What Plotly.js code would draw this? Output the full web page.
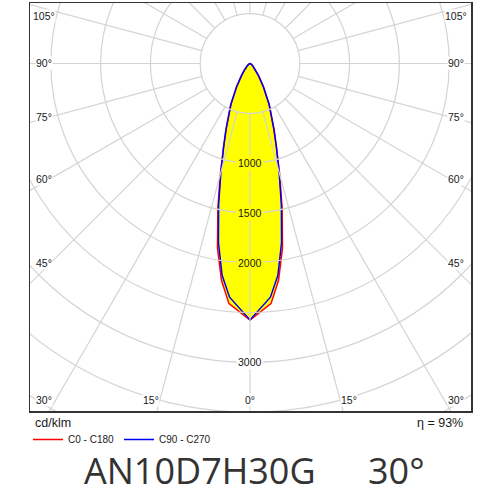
<!DOCTYPE html>
<html>
<head>
<meta charset="utf-8">
<script src="https://cdn.plot.ly/plotly-3.0.1.min.js"></script>
<style>
  html, body { margin: 0; padding: 0; background: #fff; }
  #chart { width: 500px; height: 500px; }
</style>
</head>
<body>
<div id="chart"></div>
<script>
// Photometric data (cd/klm)
const gamma  = [0, 5, 7.5, 10, 12.5, 15, 17.5, 20, 25, 30, 35, 40, 45, 50, 60, 70, 80, 90];
const cdC0   = [2575, 2420, 2195, 1880, 1490, 1150, 880, 695, 450, 262, 145, 88, 54, 34, 14, 5, 2, 0];
const cdC180 = [2575, 2420, 2195, 1880, 1490, 1150, 880, 695, 450, 262, 145, 88, 54, 34, 14, 5, 2, 0];
const cdC90  = [2575, 2355, 2145, 1825, 1455, 1130, 885, 708, 460, 272, 152, 93, 57, 36, 15, 5, 2, 0];
const cdC270 = [2575, 2355, 2145, 1825, 1455, 1130, 885, 708, 460, 272, 152, 93, 57, 36, 15, 5, 2, 0];

const ringValues = [500, 1000, 1500, 2000, 2500, 3000, 3500, 4000];
const ringLabels = [1000, 1500, 2000, 3000];
const sideLabels = ['105°', '90°', '75°', '60°', '45°', '30°'];
const bottomLabels = ['15°', '0°', '15°'];
const seriesNames = ['C0 - C180', 'C90 - C270'];
const unitText = 'cd/klm';
const effText = 'η = 93%';
const productName = 'AN10D7H30G';
const beamText = '30°';

// page geometry (px)
const W = 500, H = 500;
const M = { l: 30, r: 29, t: 3, b: 89 };
const cx = 250, cy = 63.5, k = 0.0996; // centre and px per cd/klm
const plotW = W - M.l - M.r, plotH = H - M.t - M.b;
const px = x => (x - M.l) / plotW;
const py = y => (H - M.b - y) / plotH;

// turn one C-plane pair into x/y through the axes
function planeXY(right, left) {
    const xs = [], ys = [];
    for (let i = gamma.length - 1; i >= 0; i--) {
        const a = gamma[i] * Math.PI / 180;
        xs.push(-left[i] * Math.sin(a));
        ys.push(-left[i] * Math.cos(a));
    }
    for (let i = 1; i < gamma.length; i++) {
        const a = gamma[i] * Math.PI / 180;
        xs.push(right[i] * Math.sin(a));
        ys.push(-right[i] * Math.cos(a));
    }
    return { x: xs, y: ys };
}

const red = planeXY(cdC0, cdC180);
const blue = planeXY(cdC90, cdC270);

const traces = [
    {
        x: red.x, y: red.y, type: 'scatter', mode: 'lines',
        fill: 'toself', fillcolor: '#ffff00',
        line: { width: 0 }, showlegend: false, hoverinfo: 'skip'
    },
    {
        x: red.x, y: red.y, type: 'scatter', mode: 'lines', name: seriesNames[0],
        line: { color: '#ff0000', width: 1.5 }
    },
    {
        x: blue.x, y: blue.y, type: 'scatter', mode: 'lines', name: seriesNames[1],
        line: { color: '#0000ff', width: 1.5 }
    }
];

// polar grid: rings and 15° spokes from the 500 ring outward
const gridLine = { color: '#d4d4d4', width: 1.2 };
const shapes = ringValues.map(r => ({
    type: 'circle', xref: 'x', yref: 'y', layer: 'above',
    x0: -r, x1: r, y0: -r, y1: r, line: gridLine
}));
for (let deg = 0; deg < 360; deg += 15) {
    const a = deg * Math.PI / 180;
    shapes.push({
        type: 'line', xref: 'x', yref: 'y', layer: 'above',
        x0: 500 * Math.sin(a), y0: -500 * Math.cos(a),
        x1: 6000 * Math.sin(a), y1: -6000 * Math.cos(a),
        line: gridLine
    });
}

const labelFont = { family: 'Liberation Sans, Arial, sans-serif', size: 10.5, color: '#1a1a1a' };
const annotations = [];

ringLabels.forEach(r => {
    annotations.push({
        x: 0, y: -r, xref: 'x', yref: 'y', text: String(r), showarrow: false,
        xanchor: 'center', yanchor: 'middle',
        font: labelFont, bgcolor: r < cdC0[0] ? '#ffff00' : '#ffffff', borderpad: 1
    });
});

function pxNote(x, y, text, font, xanchor, bg) {
    return {
        x: px(x), y: py(y), xref: 'paper', yref: 'paper', text: text,
        showarrow: false, font: font, xanchor: xanchor || 'center', yanchor: 'middle',
        bgcolor: bg || 'rgba(0,0,0,0)', borderpad: 0
    };
}

const sideY = [16, 63, 117, 179, 263, 400];
sideLabels.forEach((t, i) => {
    annotations.push(pxNote(44, sideY[i], t, labelFont, 'center', '#ffffff'));
    annotations.push(pxNote(456, sideY[i], t, labelFont, 'center', '#ffffff'));
});
const bottomX = [151, 250, 349];
bottomLabels.forEach((t, i) => {
    annotations.push(pxNote(bottomX[i], 400, t, labelFont, 'center', '#ffffff'));
});

annotations.push(pxNote(34, 423, unitText,
    { family: 'Liberation Sans, Arial, sans-serif', size: 12.5, color: '#1a1a1a' }, 'left'));
annotations.push(pxNote(464, 423, effText,
    { family: 'Liberation Sans, Arial, sans-serif', size: 12.5, color: '#1a1a1a' }, 'right'));

const titleFont = { family: 'Open Sans, Noto Sans, sans-serif', size: 36, color: '#333' };
annotations.push(pxNote(200, 471, productName, titleFont));
annotations.push(pxNote(396, 471, beamText, titleFont));

const axisBase = {
    showgrid: false, zeroline: false, showticklabels: false, ticks: '',
    showline: true, mirror: true, linecolor: '#333', linewidth: 1.5, fixedrange: true
};

const layout = {
    width: W, height: H,
    margin: M,
    paper_bgcolor: '#fff', plot_bgcolor: '#fff',
    xaxis: Object.assign({}, axisBase, { range: [(M.l - cx) / k, (W - M.r - cx) / k] }),
    yaxis: Object.assign({}, axisBase, { range: [-(H - M.b - cy) / k, (cy - M.t) / k] }),
    showlegend: true,
    legend: {
        orientation: 'h', xref: 'container', yref: 'container',
        x: 28 / W, y: 1 - 425 / H, xanchor: 'left', yanchor: 'top',
        bgcolor: 'rgba(0,0,0,0)', borderwidth: 0,
        font: { family: 'Liberation Sans, Arial, sans-serif', size: 10, color: '#1a1a1a' }
    },
    shapes: shapes,
    annotations: annotations
};

Plotly.newPlot('chart', traces, layout, { displayModeBar: false, staticPlot: true });
</script>
</body>
</html>
